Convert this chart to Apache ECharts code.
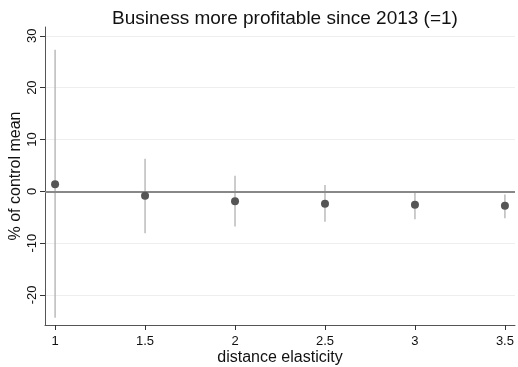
<!DOCTYPE html>
<html>
<head>
<meta charset="utf-8">
<script src="https://cdn.jsdelivr.net/npm/echarts@6/dist/echarts.min.js"></script>
<style>
html,body{margin:0;padding:0;background:#fff;}
#chart{width:518px;height:367px;}
</style>
</head>
<body>
<div id="chart"></div>
<script>
// Point estimates with confidence intervals, by distance elasticity
const elasticity = [1, 1.5, 2, 2.5, 3, 3.5];
const estimate = [1.35, -0.85, -1.9, -2.4, -2.6, -2.8];
const ciLow = [-24.4, -8.1, -6.8, -5.9, -5.4, -5.2];
const ciHigh = [27.3, 6.3, 3.0, 1.2, 0.0, -0.6];
const xTicks = [1, 1.5, 2, 2.5, 3, 3.5];
const yTicks = [-20, -10, 0, 10, 20, 30];

const font = 'Liberation Sans, Arial, sans-serif';
const chart = echarts.init(document.getElementById('chart'));

const ciData = elasticity.map((x, i) => [x, ciLow[i], ciHigh[i]]);
const pointData = elasticity.map((x, i) => [x, estimate[i]]);

chart.setOption({
  animation: false,
  title: {
    text: 'Business more profitable since 2013 (=1)',
    left: 280, top: 4, textAlign: 'center',
    textStyle: {fontFamily: font, fontSize: 19, fontWeight: 'normal', color: '#111'}
  },
  grid: {left: 45, right: 3, top: 27, bottom: 42, containLabel: false, outerBoundsMode: 'none'},
  xAxis: {
    type: 'value', min: 0.944, max: 3.556,
    name: 'distance elasticity', nameLocation: 'middle', nameGap: 25, nameMoveOverlap: false,
    nameTextStyle: {fontFamily: font, fontSize: 16, color: '#111'},
    axisLine: {show: true, onZero: false, lineStyle: {color: '#555', width: 1}},
    axisTick: {show: true, length: 5, lineStyle: {color: '#333'}, customValues: xTicks},
    axisLabel: {fontFamily: font, fontSize: 13, color: '#111', margin: 10, customValues: xTicks},
    splitLine: {show: false}
  },
  yAxis: {
    type: 'value', min: -25.8, max: 31.7,
    name: '% of control mean', nameLocation: 'middle', nameGap: 21, nameMoveOverlap: false,
    nameTextStyle: {fontFamily: font, fontSize: 16, color: '#111'},
    axisLine: {show: true, onZero: false, lineStyle: {color: '#555', width: 1}},
    axisTick: {show: true, length: 5, lineStyle: {color: '#333'}, customValues: yTicks},
    axisLabel: {fontFamily: font, fontSize: 13, color: '#111', rotate: 90, margin: 6, customValues: yTicks},
    splitLine: {show: true, lineStyle: {color: '#eeeeee', width: 1}}
  },
  series: [
    {
      type: 'custom',
      data: ciData,
      renderItem: function (params, api) {
        const x = api.value(0);
        const lo = api.coord([x, api.value(1)]);
        const hi = api.coord([x, api.value(2)]);
        return {
          type: 'line',
          shape: {x1: lo[0], y1: lo[1], x2: hi[0], y2: hi[1]},
          style: {stroke: '#aaaaaa', lineWidth: 1.2}
        };
      },
      z: 2
    },
    {
      type: 'scatter',
      data: pointData,
      symbolSize: 8,
      itemStyle: {color: '#555555', opacity: 1},
      z: 4,
      markLine: {
        silent: true, symbol: 'none',
        label: {show: false},
        lineStyle: {color: '#888888', width: 2, type: 'solid'},
        data: [{yAxis: 0}],
        z: 3
      }
    }
  ]
});
</script>
</body>
</html>
